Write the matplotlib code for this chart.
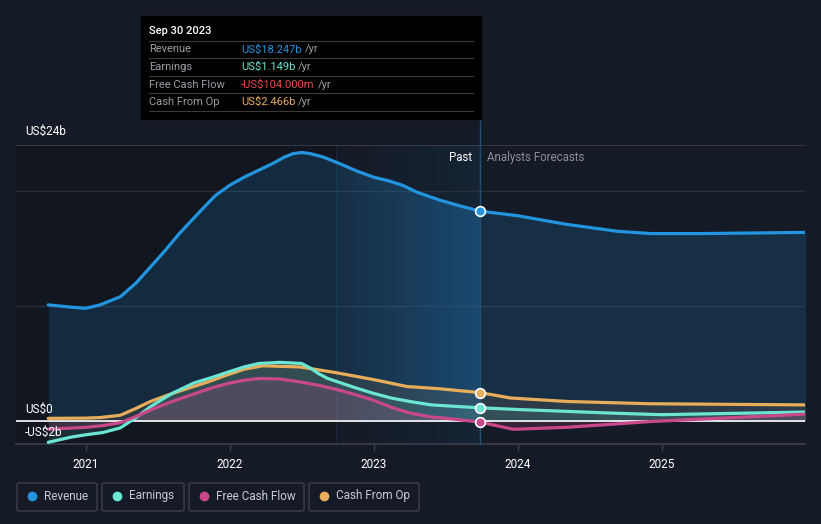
import matplotlib
matplotlib.use('Agg')
import matplotlib.pyplot as plt
import numpy as np
from matplotlib.patches import Rectangle, FancyBboxPatch
from matplotlib.lines import Line2D

plt.rcParams['font.family'] = ['Roboto', 'DejaVu Sans']

# -------------------------[Data]-------------------------
rev_t = [2020.74, 2020.9, 2021.0, 2021.1, 2021.24, 2021.35, 2021.45, 2021.55, 2021.65, 2021.8,
         2021.9, 2022.0, 2022.1, 2022.2, 2022.3, 2022.38, 2022.44, 2022.5, 2022.56, 2022.65,
         2022.77, 2022.88, 2023.0, 2023.1, 2023.2, 2023.3, 2023.46, 2023.6, 2023.74,
         2024.0, 2024.34, 2024.69, 2024.92, 2025.3, 2026.0]
rev_v = [10.1, 9.9, 9.8, 10.1, 10.8, 12.0, 13.4, 14.8, 16.3, 18.3,
         19.6, 20.5, 21.2, 21.8, 22.4, 22.95, 23.25, 23.35, 23.25, 22.95,
         22.35, 21.75, 21.2, 20.9, 20.5, 19.9, 19.2, 18.7, 18.247,
         17.85, 17.1, 16.5, 16.3, 16.3, 16.4]

earn_t = [2020.74, 2020.9, 2021.0, 2021.12, 2021.24, 2021.35, 2021.45, 2021.6, 2021.75, 2021.88,
          2022.0, 2022.1, 2022.2, 2022.35, 2022.5, 2022.56, 2022.62, 2022.68, 2022.74, 2022.87,
          2023.0, 2023.12, 2023.25, 2023.4, 2023.53, 2023.74,
          2024.0, 2024.69, 2025.0, 2026.0]
earn_v = [-1.85, -1.4, -1.2, -1.0, -0.6, 0.3, 1.25, 2.4, 3.3, 3.8,
          4.3, 4.7, 5.0, 5.1, 5.0, 4.6, 4.1, 3.7, 3.45, 2.9,
          2.4, 2.0, 1.7, 1.4, 1.3, 1.149,
          1.0, 0.67, 0.55, 0.78]

fcf_t = [2020.74, 2021.0, 2021.12, 2021.24, 2021.35, 2021.45, 2021.6, 2021.75, 2021.88, 2022.0,
         2022.1, 2022.21, 2022.35, 2022.49, 2022.62, 2022.74, 2022.87, 2023.0, 2023.12, 2023.25,
         2023.4, 2023.53, 2023.74,
         2023.97, 2024.34, 2024.92, 2026.0]
fcf_v = [-0.72, -0.55, -0.4, -0.15, 0.4, 0.96, 1.7, 2.35, 2.9, 3.3,
         3.55, 3.7, 3.65, 3.4, 3.1, 2.75, 2.3, 1.8, 1.2, 0.7,
         0.35, 0.2, -0.104,
         -0.72, -0.55, -0.05, 0.6]

cfo_t = [2020.74, 2021.0, 2021.1, 2021.24, 2021.35, 2021.45, 2021.58, 2021.7, 2021.85, 2021.98,
         2022.1, 2022.23, 2022.49, 2022.74, 2023.0, 2023.23, 2023.46, 2023.74,
         2023.95, 2024.34, 2024.92, 2026.0]
cfo_v = [0.23, 0.25, 0.3, 0.5, 1.1, 1.7, 2.3, 2.8, 3.4, 4.0,
         4.5, 4.8, 4.7, 4.2, 3.6, 3.0, 2.8, 2.466,
         2.0, 1.7, 1.5, 1.4]

year_ticks = [2021, 2022, 2023, 2024, 2025]
past_end = 2023.74
hl_start = 2022.74

tip_date = 'Sep 30 2023'
tip_rows = [('Revenue', 'US$18.247b'), ('Earnings', 'US$1.149b'),
            ('Free Cash Flow', '-US$104.000m'), ('Cash From Op', 'US$2.466b')]
# ----------------------------------------------------------

BG = '#151b26'
C_REV, C_EARN, C_FCF, C_CFO = '#2394df', '#6ce5d3', '#c8488a', '#e8ad5a'
W, H = 821, 524


def px(x, y):
    return x / W, 1 - y / H


fig = plt.figure(figsize=(W / 100, H / 100), dpi=100, facecolor=BG)
ax = fig.add_axes([16 / W, (H - 444) / H, 789 / W, 299 / H])
ax.set_facecolor(BG)
ax.set_xlim(2020.516, 2025.995)
ax.set_ylim(-2, 24)

# shaded regions
ax.axvspan(2020.516, hl_start, color='#0a0d12', alpha=0.35, lw=0, zorder=0)
grad = np.linspace(0, 1, 256).reshape(1, -1)
ax.imshow(np.dstack([np.full_like(grad, 0.12), np.full_like(grad, 0.40), np.full_like(grad, 0.65), grad * 0.12]),
          extent=[hl_start, past_end, -2, 24], aspect='auto', zorder=0.5, interpolation='bilinear')
ax.axvline(hl_start, color='#18283a', lw=0.8, zorder=1)

# grid
for g in [10, 20]:
    ax.axhline(g, color='#2a303b', lw=1, zorder=1)
ax.axhline(24, color='#3b404a', lw=1.2, zorder=1)
ax.axhline(0, color='white', lw=1.2, zorder=4)

# fills
rev_fill = ax.fill_between(rev_t, rev_v, 0, color=C_REV, alpha=0.17, lw=0, zorder=2)
im = ax.imshow(np.dstack([np.full_like(grad, 0.14), np.full_like(grad, 0.55), np.full_like(grad, 0.87), grad * 0.22]),
               extent=[hl_start, past_end, -2, 24], aspect='auto', zorder=2.1, interpolation='bilinear')
im.set_clip_path(rev_fill.get_paths()[0], transform=ax.transData)
ax.fill_between(cfo_t, cfo_v, 0, color=C_CFO, alpha=0.10, lw=0, zorder=2.2)
ax.fill_between(earn_t, earn_v, 0, color=C_EARN, alpha=0.12, lw=0, zorder=2.2)
ax.fill_between(fcf_t, fcf_v, 0, color=C_FCF, alpha=0.18, lw=0, zorder=2.2)

# lines
for t, v, c in [(rev_t, rev_v, C_REV), (cfo_t, cfo_v, C_CFO), (earn_t, earn_v, C_EARN), (fcf_t, fcf_v, C_FCF)]:
    ax.plot(t, v, color=c, lw=2.3, solid_capstyle='round', solid_joinstyle='round', zorder=5)
    i = t.index(past_end)
    ax.plot(t[i], v[i], 'o', ms=7, mfc=c, mec='white', mew=1.2, zorder=7)

# past line
ax.axvline(past_end, ymin=0, ymax=(444 - 119) / 299, color='#1f4f73', lw=1, zorder=3, clip_on=False)
ax.text(2023.68, 22.9, 'Past', color='white', fontsize=8.3, ha='right', va='center')
ax.text(2023.79, 22.9, 'Analysts Forecasts', color='#8a8f98', fontsize=8.3, ha='left', va='center')

# axes
for s in ax.spines.values():
    s.set_visible(False)
ax.spines['bottom'].set_visible(True)
ax.spines['bottom'].set_color('#3b404a')
ax.spines['bottom'].set_linewidth(1.2)
ax.set_xticks(year_ticks)
ax.set_xticklabels([str(y) for y in year_ticks], color='white', fontsize=8.5)
ax.tick_params(axis='x', colors='#3b404a', length=5, width=1, labelcolor='white', pad=5)
ax.set_yticks([])

fig.text(*px(25, 131), 'US$24b', color='white', fontsize=8.5, va='center')
fig.text(*px(25, 409), 'US$0', color='white', fontsize=8.5, va='center')
fig.text(*px(25, 432), '-US$2b', color='white', fontsize=8.5, va='center')

# tooltip
x0, y0 = px(141, 119)
fig.patches.append(Rectangle((x0, y0), 340 / W, 103 / H, transform=fig.transFigure, color='black', zorder=10))
fig.text(*px(149, 31), tip_date, color='white', fontsize=8, va='center', zorder=11, fontweight='medium')
sep_y = [41, 58, 76, 93, 111]
for sy in sep_y:
    fig.add_artist(Line2D([149 / W, 473 / W], [1 - sy / H] * 2, color='#3a3a3a', lw=0.8, zorder=11))
val_cols = [C_REV, C_EARN, '#f04848', C_CFO]
for k, ((lab, val), vc) in enumerate(zip(tip_rows, val_cols)):
    yy = 49.5 + k * 17.5
    fig.text(*px(149, yy), lab, color='#9a9ea5', fontsize=8, va='center', zorder=11)
    tv = fig.text(*px(241, yy), val, color=vc, fontsize=8, va='center', zorder=11)
    fig.canvas.draw()
    bb = tv.get_window_extent()
    fig.text(bb.x1 / W + 3 / W, 1 - yy / H, '/yr', color='#9a9ea5', fontsize=8, va='center', zorder=11)

# legend
leg = [('Revenue', C_REV, 17, 97), ('Earnings', C_EARN, 102, 184),
       ('Free Cash Flow', C_FCF, 189, 304), ('Cash From Op', C_CFO, 309, 419)]
for lab, c, xa, xb in leg:
    fig.patches.append(FancyBboxPatch(px(xa, 511), (xb - xa) / W, 28 / H, boxstyle='round,pad=0,rounding_size=0.003',
                                      transform=fig.transFigure, fc='none', ec='#3b404a', lw=1))
    fig.add_artist(Line2D([(xa + 15) / W], [1 - 496 / H], marker='o', ms=6, color=c, transform=fig.transFigure))
    fig.text(*px(xa + 27, 496), lab, color='#c8ccd2', fontsize=8.5, va='center')

fig.savefig('out.png', dpi=100, facecolor=BG)
